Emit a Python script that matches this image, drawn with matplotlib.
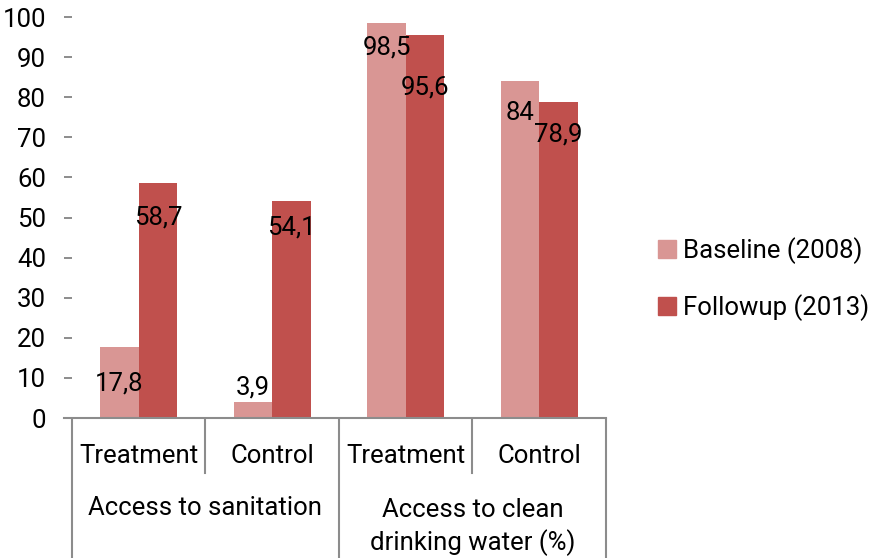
import matplotlib
matplotlib.use("Agg")
import matplotlib.pyplot as plt
from matplotlib.patches import Patch
from matplotlib.lines import Line2D
import numpy as np

plt.rcParams['font.family'] = ['Roboto', 'DejaVu Sans']

subgroups = ["Treatment", "Control", "Treatment", "Control"]
groups = ["Access to sanitation", "Access to clean\ndrinking water (%)"]
series_names = ["Baseline (2008)", "Followup (2013)"]
baseline = [17.8, 3.9, 98.5, 84.0]
followup = [58.7, 54.1, 95.6, 78.9]
baseline_labels = ["17,8", "3,9", "98,5", "84"]
followup_labels = ["58,7", "54,1", "95,6", "78,9"]
# label vertical offsets relative to bar tops (data units)
baseline_label_off = [-9.1, 3.6, -6.0, -8.0]
followup_label_off = [-8.8, -6.7, -13.1, -8.1]

c_base = "#D99694"
c_follow = "#C0504D"
grid_c = "#8C8C8C"
FS = 18.5

W, H = 878, 558
fig = plt.figure(figsize=(W / 100, H / 100), dpi=100)
x0, x1, y0, y1 = 72, 606, 418, 17
ax = fig.add_axes([x0 / W, (H - y0) / H, (x1 - x0) / W, (y0 - y1) / H])

x = np.arange(len(subgroups))
bw = 0.288
ax.bar(x - bw / 2, baseline, bw, color=c_base, label=series_names[0])
ax.bar(x + bw / 2, followup, bw, color=c_follow, label=series_names[1])

for i in range(len(x)):
    ax.text(x[i] - bw / 2, baseline[i] + baseline_label_off[i], baseline_labels[i],
            ha="center", va="center", fontsize=FS, color="black")
    ax.text(x[i] + bw / 2, followup[i] + followup_label_off[i], followup_labels[i],
            ha="center", va="center", fontsize=FS, color="black")

ax.set_xlim(-0.5, len(x) - 0.5)
ax.set_ylim(0, 100)
ax.set_yticks(np.arange(0, 101, 10))
ax.tick_params(axis="y", length=5.8, width=1.4, color=grid_c, pad=13, labelsize=FS,
               labelcolor="black", direction="out")
ax.set_xticks([])
for s in ax.spines.values():
    s.set_visible(False)

# horizontal axis line (extends under tick marks)
px = 1 / 133.5
ax.add_line(Line2D([-0.5 - 8 * px, 3.5], [0, 0], color=grid_c, lw=1.5, clip_on=False))

trans = ax.get_xaxis_transform()
def yfrac(ypix):
    return (y0 - ypix) / (y0 - y1)
for xv, bottom in [(-0.5, H), (0.5, 473), (1.5, H), (2.5, 473), (3.5, H)]:
    ax.add_line(Line2D([xv, xv], [yfrac(419), yfrac(bottom)], color=grid_c, lw=1.5,
                       transform=trans, clip_on=False))

for i, lab in enumerate(subgroups):
    ax.text(x[i], yfrac(456), lab, transform=trans, ha="center", va="center", fontsize=FS)
ax.text(0.5, yfrac(508), groups[0], transform=trans, ha="center", va="center", fontsize=FS)
ax.text(2.5, yfrac(527), groups[1], transform=trans, ha="center", va="center", fontsize=FS,
        linespacing=1.35)

handles = [Patch(color=c_base, label=series_names[0]), Patch(color=c_follow, label=series_names[1])]
fig.legend(handles=handles, loc="center left", bbox_to_anchor=(648 / W, 1 - 279 / H),
           frameon=False, fontsize=FS, handlelength=0.7, handleheight=0.7,
           handletextpad=0.25, labelspacing=1.2, borderaxespad=0)

fig.savefig("out.png", dpi=100)
